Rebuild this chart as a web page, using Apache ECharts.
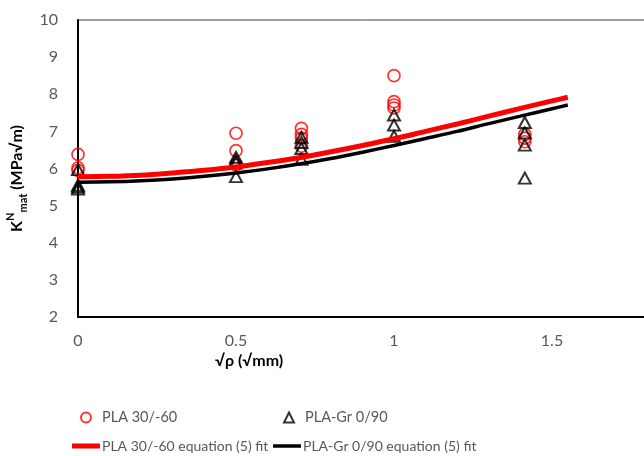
<!DOCTYPE html>
<html>
<head>
<meta charset="utf-8">
<script src="https://cdn.jsdelivr.net/npm/echarts@6/dist/echarts.min.js"></script>
<style>
  html, body { margin: 0; padding: 0; background: #fff; }
  #main { width: 644px; height: 456px; }
</style>
</head>
<body>
<div id="main"></div>
<script>
const plaX = [0, 0, 0, 0.5, 0.5, 0.5, 0.707, 0.707, 0.707, 0.707, 1, 1, 1, 1, 1.414, 1.414, 1.414];
const plaY = [6.38, 6.02, 5.95, 6.95, 6.48, 6.10, 7.08, 6.92, 6.82, 6.60, 8.50, 7.80, 7.71, 7.63, 6.92, 6.82, 6.72];

const grX = [0, 0, 0, 0, 0.5, 0.5, 0.5, 0.5, 0.707, 0.707, 0.707, 0.707, 1, 1, 1, 1.414, 1.414, 1.414, 1.414];
const grY = [5.97, 5.55, 5.50, 5.45, 6.30, 6.22, 6.15, 5.78, 6.84, 6.70, 6.54, 6.25, 7.44, 7.17, 6.87, 7.24, 6.96, 6.63, 5.74];

// equation (5) fit curves
const fitX = [0, 0.1, 0.2, 0.3, 0.4, 0.5, 0.6, 0.7, 0.8, 0.9, 1.0, 1.1, 1.2, 1.3, 1.4, 1.5, 1.55];
const plaFit = [5.78, 5.79, 5.82, 5.88, 5.95, 6.04, 6.16, 6.29, 6.45, 6.62, 6.80, 7.00, 7.20, 7.41, 7.62, 7.82, 7.92];
const grFit = [5.63, 5.64, 5.67, 5.72, 5.79, 5.88, 5.99, 6.12, 6.27, 6.44, 6.62, 6.81, 7.00, 7.21, 7.41, 7.61, 7.71];

const names = ['PLA 30/-60', 'PLA-Gr 0/90', 'PLA 30/-60 equation (5) fit', 'PLA-Gr 0/90 equation (5) fit'];

function pairs(xs, ys) {
    return xs.map(function (x, i) { return [x, ys[i]]; });
}

const font = 'Lato';
const grey = '#595959';

let myChart = echarts.init(document.getElementById('main'));

// one legend box per entry so the two columns line up like the original
function markLegend(name, left, top) {
    return {
        data: [name],
        left: left, top: top,
        itemWidth: 10, itemHeight: 10,
        padding: 0,
        textStyle: {color: grey, fontSize: 14.5, fontFamily: font, padding: [0, 0, 0, 6]}
    };
}
function lineLegend(name, left, top, h) {
    return {
        data: [{name: name, icon: 'rect'}],
        left: left, top: top,
        itemWidth: 28, itemHeight: h,
        padding: 0,
        textStyle: {color: grey, fontSize: 14, fontFamily: font, padding: [0, 0, 0, -3]}
    };
}

let option = {
    animation: false,
    backgroundColor: '#fff',
    textStyle: {fontFamily: font},
    title: {
        text: '√ρ (√mm)',
        left: 215,
        top: 353,
        padding: 0,
        textStyle: {fontSize: 16, fontWeight: 'bold', color: '#000', fontFamily: font}
    },
    legend: [
        markLegend(names[0], 80, 410),
        markLegend(names[1], 283, 410),
        lineLegend(names[2], 72, 439, 5),
        lineLegend(names[3], 273, 439, 3.5)
    ],
    grid: {
        left: 78, top: 20, height: 297, width: 632,
        outerBoundsMode: 'none',
        show: true, borderColor: '#404040', borderWidth: 1
    },
    xAxis: {
        type: 'value',
        min: 0, max: 2, interval: 0.5,
        splitLine: {show: false},
        axisTick: {show: false},
        axisLine: {lineStyle: {color: '#000', width: 2}},
        axisLabel: {color: grey, fontSize: 16, margin: 16, fontFamily: font}
    },
    yAxis: {
        type: 'value',
        min: 2, max: 10, interval: 1,
        splitLine: {show: false},
        axisTick: {show: false},
        axisLine: {show: true, lineStyle: {color: '#000', width: 2}},
        axisLabel: {color: grey, fontSize: 16, margin: 20, fontFamily: font},
        name: '{b|K}{sup|N}{sub|mat}{b| (MPa√m)}',
        nameLocation: 'middle',
        nameGap: 46,
        nameTextStyle: {
            padding: [0, 20, 0, 0],
            rich: {
                b: {fontSize: 16, fontWeight: 'bold', color: '#000', fontFamily: font, lineHeight: 24},
                sup: {fontSize: 11, fontWeight: 'bold', color: '#000', fontFamily: font, lineHeight: 24, verticalAlign: 'top', padding: [0, 0, 6, 0]},
                sub: {fontSize: 11, fontWeight: 'bold', color: '#000', fontFamily: font, lineHeight: 24, verticalAlign: 'bottom', padding: [6, 0, 0, 0]}
            }
        }
    },
    series: [
        {
            name: names[0],
            type: 'scatter',
            symbol: 'circle',
            symbolSize: 12,
            data: pairs(plaX, plaY),
            itemStyle: {color: 'rgba(255,255,255,0)', borderColor: '#ff0000', borderWidth: 1.7}
        },
        {
            name: names[1],
            type: 'scatter',
            symbol: 'triangle',
            symbolSize: [12, 11],
            data: pairs(grX, grY),
            itemStyle: {color: 'rgba(255,255,255,0)', borderColor: '#000', borderWidth: 2}
        },
        {
            name: names[2],
            type: 'line',
            smooth: 0.3,
            showSymbol: false,
            symbol: 'none',
            data: pairs(fitX, plaFit),
            lineStyle: {color: '#ff0000', width: 5},
            itemStyle: {color: '#ff0000'}
        },
        {
            name: names[3],
            type: 'line',
            smooth: 0.3,
            showSymbol: false,
            symbol: 'none',
            data: pairs(fitX, grFit),
            lineStyle: {color: '#000', width: 3.5},
            itemStyle: {color: '#000'}
        }
    ]
};

myChart.setOption(option);
</script>
</body>
</html>
